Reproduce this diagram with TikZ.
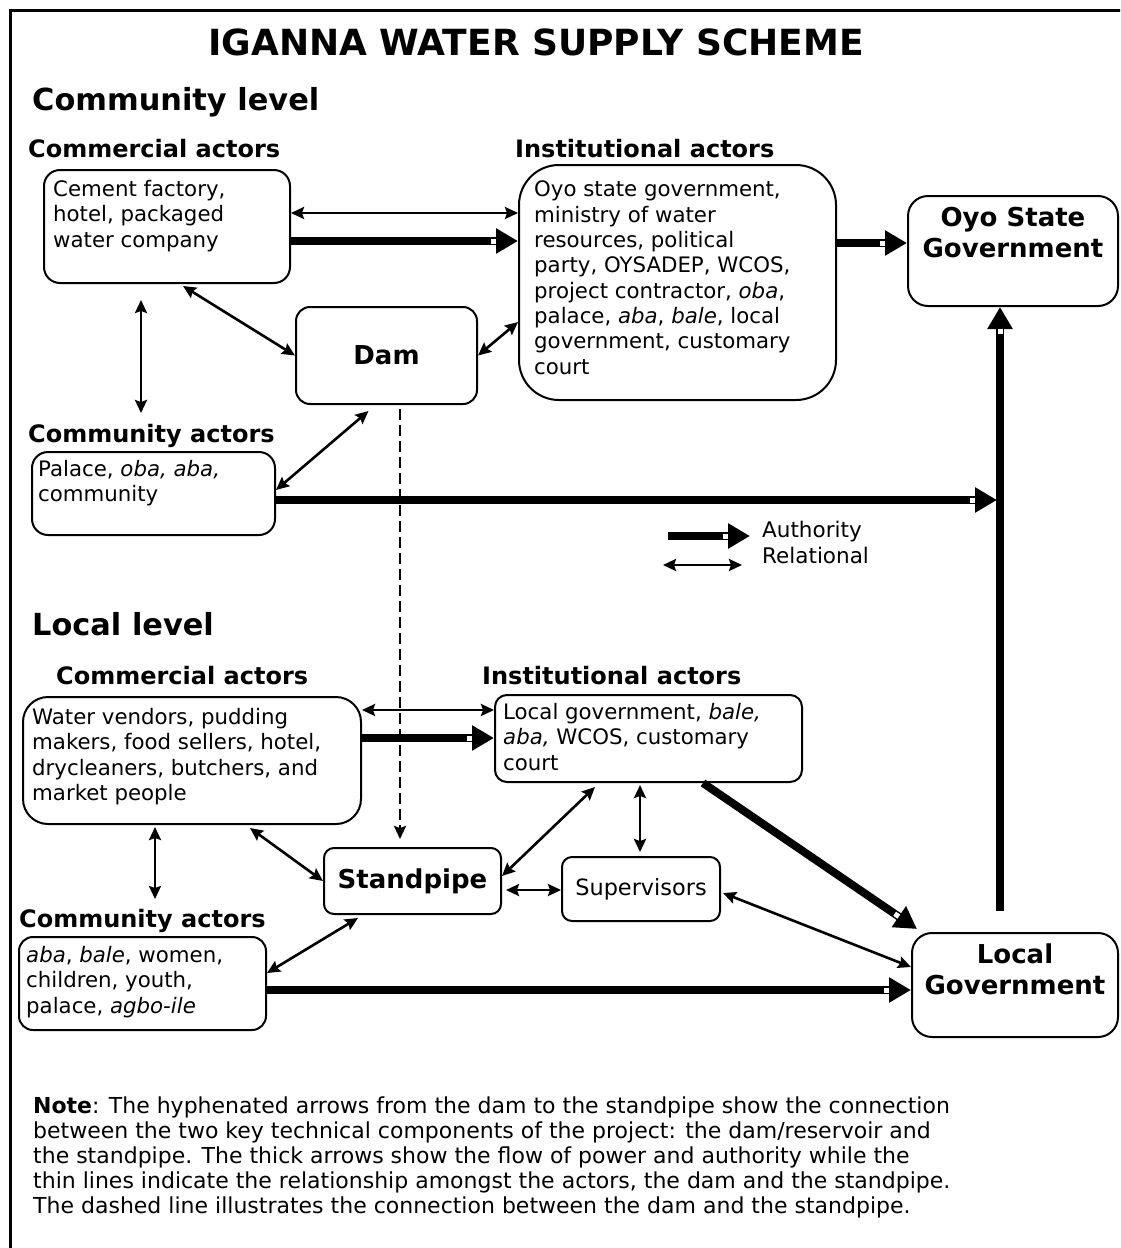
\documentclass[tikz,border=0pt]{standalone}
\usepackage{fontspec}
\setmainfont{DejaVu Sans}
\usetikzlibrary{arrows.meta,calc,decorations.markings}

% Multi-line text nodes are placed by the baseline of their last line.
\tikzset{
  box/.style={draw, line width=2pt, rounded corners=#1, inner sep=0pt},
  box/.default=14pt,
  body/.style={anchor=base west, align=left, inner sep=0pt,
    font=\fontsize{21.3}{25.3}\selectfont},
  lvl/.style={anchor=base west, inner sep=0pt,
    font=\bfseries\fontsize{30.4}{34}\selectfont},
  grp/.style={anchor=base west, inner sep=0pt,
    font=\bfseries\fontsize{24}{28}\selectfont},
  keybox/.style={align=center, inner sep=0pt,
    font=\bfseries\fontsize{26}{31}\selectfont},
  rel/.style={line width=2.6pt,
    {Stealth[length=13pt,width=12pt,inset=2pt]}-{Stealth[length=13pt,width=12pt,inset=2pt]}},
  auth/.style={line width=8pt, -{Triangle[length=22pt,width=24pt]},
    postaction={decorate},
    decoration={markings,
      mark=at position -24.5pt with {\fill[white] (-2.5pt,-2.5pt) rectangle (2.5pt,2.5pt);}}},
  link/.style={line width=2.4pt, dash pattern=on 11pt off 5pt,
    -{Stealth[length=13pt,width=12pt,inset=2pt]}},
}

\begin{document}
\begin{tikzpicture}[x=1pt,y=-1pt]
\clip (0,0) rectangle (1120,1248);
\fill[white] (0,0) rectangle (1120,1248);
\draw[line width=3pt] (10,10) rectangle (1150,1280);

% ---------- headings ----------
\node[anchor=base, inner sep=0pt, font=\bfseries\fontsize{36}{40}\selectfont]
  (title) at (536,55) {IGANNA WATER SUPPLY SCHEME};
\node[lvl] (commlvl) at (32,110) {Community level};
\node[grp] (comm1) at (28,157) {Commercial actors};
\node[grp] (inst1) at (515,157) {Institutional actors};
\node[grp] (cact1) at (28,442) {Community actors};
\node[lvl] (loclvl) at (32,635) {Local level};
\node[grp] (comm2) at (56,684) {Commercial actors};
\node[grp] (inst2) at (482,684) {Institutional actors};
\node[grp] (cact2) at (19,927) {Community actors};

% ---------- community level boxes ----------
\node[box=16pt, minimum width=246pt, minimum height=113pt] (cc) at (167,226.5) {};
\node[body] (cctext) at (53,247) {Cement factory,\\hotel, packaged\\water company};

\node[box=40pt, minimum width=317pt, minimum height=235pt] (ci) at (677.5,282.5) {};
\node[body] (citext) at (534,374) {Oyo state government,\\ministry of water\\resources,  political\\party, OYSADEP, WCOS,\\project contractor,  \textit{oba},\\palace, \textit{aba}, \textit{bale}, local\\government, customary\\court};

\node[box=20pt, minimum width=210pt, minimum height=110pt] (oyo) at (1013,251) {};
\node[keybox] (oyotext) at (1013,233) {Oyo State\\Government};

\node[box=14pt, minimum width=181pt, minimum height=97pt,
  font=\bfseries\fontsize{26}{30}\selectfont] (dam) at (386.5,355.5) {Dam};

\node[box=16pt, minimum width=243pt, minimum height=83pt] (ca) at (153.5,493.5) {};
\node[body] (catext) at (38,501.5) {Palace, \textit{oba, aba,}\\community};

% ---------- local level boxes ----------
\node[box=25pt, minimum width=338pt, minimum height=127pt] (lc) at (192,760.5) {};
\node[body] (lctext) at (32,800.5) {Water vendors, pudding\\makers, food sellers, hotel,\\drycleaners, butchers, and\\market people};

\node[box=12pt, minimum width=307pt, minimum height=87pt] (li) at (648.5,738.5) {};
\node[body] (litext) at (503,770) {Local government,  \textit{bale,}\\\textit{aba,} WCOS, customary\\court};

\node[box=10pt, minimum width=177pt, minimum height=66pt,
  font=\bfseries\fontsize{26}{30}\selectfont] (sp) at (412.5,881) {Standpipe};

\node[box=10pt, minimum width=158pt, minimum height=64pt,
  font=\fontsize{22.4}{26}\selectfont] (sv) at (641,889) {Supervisors};

\node[box=14pt, minimum width=247pt, minimum height=93pt] (lca) at (142.5,983.5) {};
\node[body] (lcatext) at (26,1013) {\textit{aba}, \textit{bale}, women,\\children, youth,\\palace, \textit{agbo-ile}};

\node[box=20pt, minimum width=206pt, minimum height=104pt] (lg) at (1015,985) {};
\node[keybox] (lgtext) at (1015,969) {Local\\Government};

% ---------- community level connectors ----------
\draw[rel] (cc.east |- 0,213) -- (ci.west |- 0,213);
\draw[auth] (cc.east |- 0,241) -- (ci.west |- 0,241);
\draw[auth] (ci.east |- 0,243) -- (oyo.west |- 0,243);
\draw[rel] ($(cc.south)+(16,2)$) -- (dam.west);
\draw[rel] (dam.east) -- (ci.west |- 0,322);
\draw[rel] ($(cc.south -| 141,0)+(0,16)$) -- ($(ca.north -| 141,0)+(0,-38)$);
\draw[rel] ($(dam.south)+(-18,6)$) -- (ca.east |- 0,490);

% vertical authority line from local to state government
\coordinate (lgtop) at ($(lg.north -| 1000,0)+(0,-21)$);
\draw[auth] (lgtop) -- (oyo.south -| lgtop);
\draw[auth] (ca.east |- 0,500) -- ($(lgtop |- 0,500)+(-3,0)$);

% dam to standpipe
\draw[link] ($(dam.south -| 400,0)+(0,4)$) -- ($(sp.north -| 400,0)+(0,-8)$);

% ---------- legend ----------
\coordinate (la1) at (668,536);
\coordinate (la2) at (750,536);
\coordinate (lr1) at (663,565);
\coordinate (lr2) at (742,565);
\draw[auth] (la1) -- (la2);
\draw[rel] (lr1) -- (lr2);
\node[anchor=base west, inner sep=0pt, font=\fontsize{21.5}{25}\selectfont] (legauth) at (762,537) {Authority};
\node[anchor=base west, inner sep=0pt, font=\fontsize{21.5}{25}\selectfont] (legrel) at (762,563) {Relational};

% ---------- local level connectors ----------
\draw[rel] (lc.east |- 0,710) -- (li.west |- 0,710);
\draw[auth] (lc.east |- 0,738) -- (li.west |- 0,738);
\draw[auth] (li.south -| 703,0) -- ($(lg.north west)+(6,-3)$);
\draw[rel] ($(li.south -| 595,0)+(0,4)$) -- (sp.east |- 0,876);
\draw[rel] ($(li.south -| 640,0)+(0,2)$) -- ($(sv.north -| 640,0)+(0,-4)$);
\draw[rel] ($(sp.east |- 0,890)+(4,0)$) -- (sv.west |- 0,890);
\draw[rel] ($(sv.east |- 0,893)+(2,0)$) -- (lg.west |- 0,967);
\draw[rel] ($(lc.south -| 250,0)+(0,3)$) -- (sp.west);
\draw[rel] ($(lc.south -| 155,0)+(0,2)$) -- ($(lca.north -| 155,0)+(0,-37)$);
\draw[rel] (lca.east |- 0,973) -- ($(sp.south -| 358,0)+(0,3)$);
\draw[auth] (lca.east |- 0,990) -- (lg.west |- 0,990);

% ---------- note ----------
\node[anchor=base west, align=left, inner sep=0pt, font=\fontsize{22}{24.8}\selectfont]
  (note) at (33,1213) {\textbf{Note}: The hyphenated arrows from the dam to the standpipe show the connection\\between the two key technical components of the project: the dam/reservoir and\\the standpipe. The thick arrows show the flow of power and authority while the\\thin lines indicate the relationship amongst the actors, the dam and the standpipe.\\The dashed line illustrates the connection between the dam and the standpipe.};
\end{tikzpicture}
\end{document}
